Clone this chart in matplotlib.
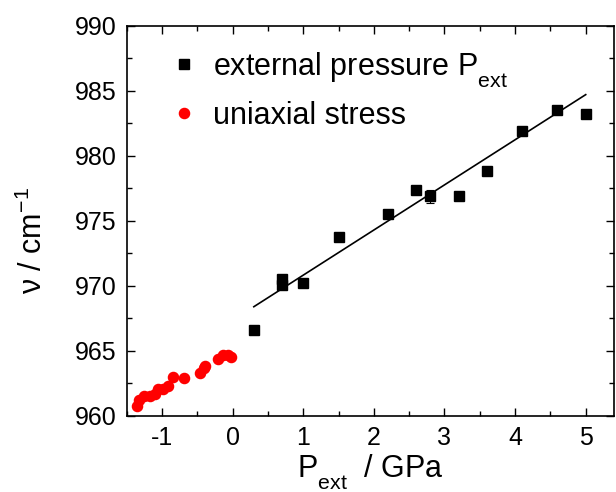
import numpy as np
import matplotlib.pyplot as plt
import matplotlib._mathtext as mtext
from matplotlib.ticker import MultipleLocator

plt.rcParams['font.family'] = ['Liberation Sans', 'DejaVu Sans']
plt.rcParams['mathtext.fontset'] = 'custom'
plt.rcParams['mathtext.rm'] = 'Liberation Sans'
plt.rcParams['mathtext.it'] = 'Liberation Sans:italic'
plt.rcParams['axes.unicode_minus'] = False
# pedice "ext" più basso come nell'originale
mtext.FontConstantsBase.sub1 = 0.75

# pressione esterna (quadrati neri)
p_ext = [0.3, 0.7, 0.7, 1.0, 1.5, 2.2, 2.6, 2.8, 3.2, 3.6, 4.1, 4.6, 5.0]
nu_ext = [966.6, 970.5, 970.1, 970.2, 973.8, 975.5, 977.35, 976.9, 976.95, 978.85, 981.9, 983.5, 983.2]
err_ext = [0, 0, 0, 0, 0, 0, 0, 0.5, 0, 0, 0, 0, 0]

# stress uniassiale (cerchi rossi)
p_uni = [-1.35, -1.33, -1.25, -1.17, -1.10, -1.06, -0.99, -0.92, -0.84, -0.69,
         -0.46, -0.41, -0.39, -0.21, -0.13, -0.06, -0.02]
nu_uni = [960.8, 961.2, 961.5, 961.5, 961.7, 962.1, 962.1, 962.3, 963.0, 962.9,
          963.3, 963.7, 963.85, 964.4, 964.7, 964.7, 964.5]

# retta di fit
fit_slope = 3.47
fit_intercept = 967.36
fit_range = [0.3, 5.0]

fig = plt.figure(figsize=(6.16, 4.92), dpi=100)
ax = fig.add_axes([0.2057, 0.1545, 0.791, 0.7930])

ax.errorbar(p_ext, nu_ext, yerr=err_ext, fmt='none', ecolor='black',
            capsize=3, elinewidth=0.8, capthick=0.8)
ax.plot(p_ext, nu_ext, 's', color='black', ms=6.5, label=r'external pressure $\mathregular{P_{ext}}$')
ax.plot(p_uni, nu_uni, 'o', color='#ff0000', ms=7.3, mec='#ff0000', label='uniaxial stress')

xf = np.array(fit_range)
ax.plot(xf, fit_intercept + fit_slope * xf, color='black', lw=1.2)

ax.set_xlim(-1.5, 5.4)
ax.set_ylim(960, 990)
ax.xaxis.set_major_locator(MultipleLocator(1))
ax.xaxis.set_minor_locator(MultipleLocator(0.5))
ax.yaxis.set_major_locator(MultipleLocator(5))
ax.yaxis.set_minor_locator(MultipleLocator(2.5))
ax.tick_params(which='both', direction='in', top=True, right=True, labelsize=18, width=1)
ax.tick_params(which='major', length=6, pad=7)
ax.tick_params(which='minor', length=3.5)
for s in ax.spines.values():
    s.set_linewidth(1.2)

ax.set_xlabel(r'$\mathregular{P_{ext}}$  / GPa', fontsize=22, labelpad=1.5)
ax.set_ylabel(r'ν / cm$^{\mathregular{-1}}$', fontsize=22)
ax.yaxis.set_label_coords(-0.16, 0.449)

leg = ax.legend(loc='upper left', bbox_to_anchor=(0.086, 0.938), frameon=False, fontsize=22,
                numpoints=1, handlelength=1.0, handletextpad=0.45, labelspacing=0.37,
                borderaxespad=0, borderpad=0)

fig.savefig('out.png', dpi=100)
